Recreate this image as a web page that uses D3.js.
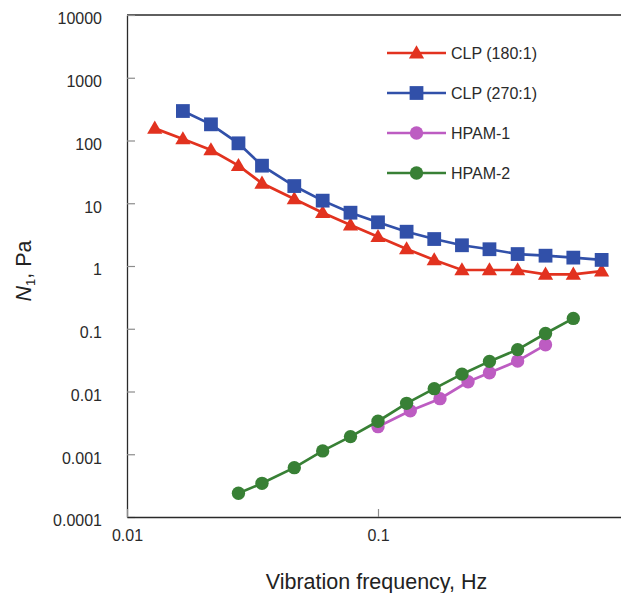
<!DOCTYPE html>
<html>
<head>
<meta charset="utf-8">
<script src="https://cdn.jsdelivr.net/npm/d3@7"></script>
<style>
    body { margin: 0; background: #fff; }
    svg { display: block; font-family: "Liberation Sans", Arial, sans-serif; }
    .axis .domain { stroke: #2a2a2a; stroke-width: 1.3; }
    .axis .tick line { stroke: #8c8c8c; stroke-width: 1.2; }
    .axis .tick text { fill: #2a2a2a; font-size: 16px; font-family: "Liberation Sans", Arial, sans-serif; }
</style>
</head>
<body>
<svg width="621" height="593"></svg>
<script>
// frequencies, Hz
const freqCLP = [0.0129, 0.0167, 0.0216, 0.0278, 0.0345, 0.0464, 0.0602, 0.0777, 0.1, 0.13, 0.1675, 0.216, 0.278, 0.36, 0.465, 0.6, 0.778];
const freqHPAM1 = [0.1, 0.1345, 0.1766, 0.2284, 0.278, 0.36, 0.465];
const freqHPAM2 = [0.0278, 0.0345, 0.0464, 0.0602, 0.0777, 0.1, 0.13, 0.1675, 0.216, 0.278, 0.36, 0.465, 0.6];

// N1, Pa
const clp180 = [156, 106, 70.6, 39.7, 20.8, 11.7, 7.07, 4.5, 2.93, 1.87, 1.25, 0.864, 0.864, 0.864, 0.738, 0.738, 0.83];
const clp270 = [295, 181, 90.2, 39.7, 18.8, 11.0, 7.07, 4.97, 3.52, 2.69, 2.14, 1.85, 1.55, 1.46, 1.36, 1.25];
const hpam1 = [0.00275, 0.00492, 0.00768, 0.0143, 0.0199, 0.0306, 0.0555];
const hpam2 = [0.000239, 0.000344, 0.000611, 0.00113, 0.00191, 0.00336, 0.00648, 0.0111, 0.0189, 0.0302, 0.0465, 0.084, 0.146];

const seriesNames = ["CLP (180:1)", "CLP (270:1)", "HPAM-1", "HPAM-2"];
const yTickValues = [1e-4, 1e-3, 1e-2, 1e-1, 1, 10, 100, 1000, 10000];
const yTickLabels = ["0.0001", "0.001", "0.01", "0.1", "1", "10", "100", "1000", "10000"];
const xTickValues = [0.01, 0.1];
const xTickLabels = ["0.01", "0.1"];

const series = [
    { name: seriesNames[0], x: freqCLP, y: clp180, color: "#e2321f", shape: "triangle" },
    { name: seriesNames[1], x: freqCLP.slice(1), y: clp270, color: "#3150a9", shape: "square" },
    { name: seriesNames[2], x: freqHPAM1, y: hpam1, color: "#bd5cc2", shape: "circle" },
    { name: seriesNames[3], x: freqHPAM2, y: hpam2, color: "#388035", shape: "circle" }
];

var svg = d3.select("svg");
var plotLeft = 127, plotRight = 629, plotTop = 15, plotBottom = 517;

var x = d3.scaleLog().domain([0.01, 1]).range([plotLeft, plotRight]);
var y = d3.scaleLog().domain([1e-4, 1e4]).range([plotBottom, plotTop]);

// top border
svg.append("line")
    .attr("x1", plotLeft).attr("x2", plotRight)
    .attr("y1", plotTop).attr("y2", plotTop)
    .attr("stroke", "#2a2a2a").attr("stroke-width", 1.3);

svg.append("g")
    .attr("class", "axis")
    .attr("transform", `translate(${plotLeft},0)`)
    .call(d3.axisLeft(y).tickValues(yTickValues).tickFormat((d, i) => yTickLabels[i])
        .tickSizeInner(-8).tickSizeOuter(0).tickPadding(25))
    .selectAll(".tick text").attr("dy", "0.55em");

svg.append("g")
    .attr("class", "axis")
    .attr("transform", `translate(0,${plotBottom})`)
    .call(d3.axisBottom(x).tickValues(xTickValues).tickFormat((d, i) => xTickLabels[i])
        .tickSizeInner(-8).tickSizeOuter(0).tickPadding(13));

var symbols = {
    triangle: d3.symbol().type(d3.symbolTriangle).size(100),
    square: d3.symbol().type(d3.symbolSquare).size(190),
    circle: d3.symbol().type(d3.symbolCircle).size(140)
};

var line = d3.line().x(d => x(d[0])).y(d => y(d[1]));

series.forEach(s => {
    var pts = s.x.map((f, i) => [f, s.y[i]]);
    var g = svg.append("g");
    g.append("path")
        .attr("d", line(pts))
        .attr("fill", "none")
        .attr("stroke", s.color)
        .attr("stroke-width", 2.7);
    g.selectAll("path.pt")
        .data(pts)
        .enter().append("path")
        .attr("class", "pt")
        .attr("transform", d => `translate(${x(d[0])},${y(d[1]) + (s.shape === "triangle" ? 1 : 0)})`)
        .attr("d", symbols[s.shape])
        .attr("fill", s.color);
});

// legend
var legend = svg.append("g")
    .selectAll("g")
    .data(series)
    .enter().append("g")
    .attr("transform", (d, i) => `translate(387,${53 + i * 40})`);

legend.append("line")
    .attr("x1", 0).attr("x2", 59)
    .attr("stroke", d => d.color).attr("stroke-width", 2.7);

legend.append("path")
    .attr("transform", d => `translate(29.5,${d.shape === "triangle" ? 1 : 0})`)
    .attr("d", d => symbols[d.shape]())
    .attr("fill", d => d.color);

legend.append("text")
    .attr("x", 64)
    .attr("dy", "0.36em")
    .attr("font-size", 16)
    .attr("fill", "#2a2a2a")
    .text(d => d.name);

// axis titles
svg.append("text")
    .attr("x", 376.5).attr("y", 589)
    .attr("text-anchor", "middle")
    .attr("font-size", 21.5)
    .attr("fill", "#222")
    .text("Vibration frequency, Hz");

var yt = svg.append("text")
    .attr("transform", "translate(31,271) rotate(-90)")
    .attr("text-anchor", "middle")
    .attr("font-size", 21.5)
    .attr("fill", "#222");
yt.append("tspan").attr("font-style", "italic").text("N");
yt.append("tspan").attr("font-size", 13).attr("dy", 4).text("1");
yt.append("tspan").attr("dy", -4).text(", Pa");
</script>
</body>
</html>
